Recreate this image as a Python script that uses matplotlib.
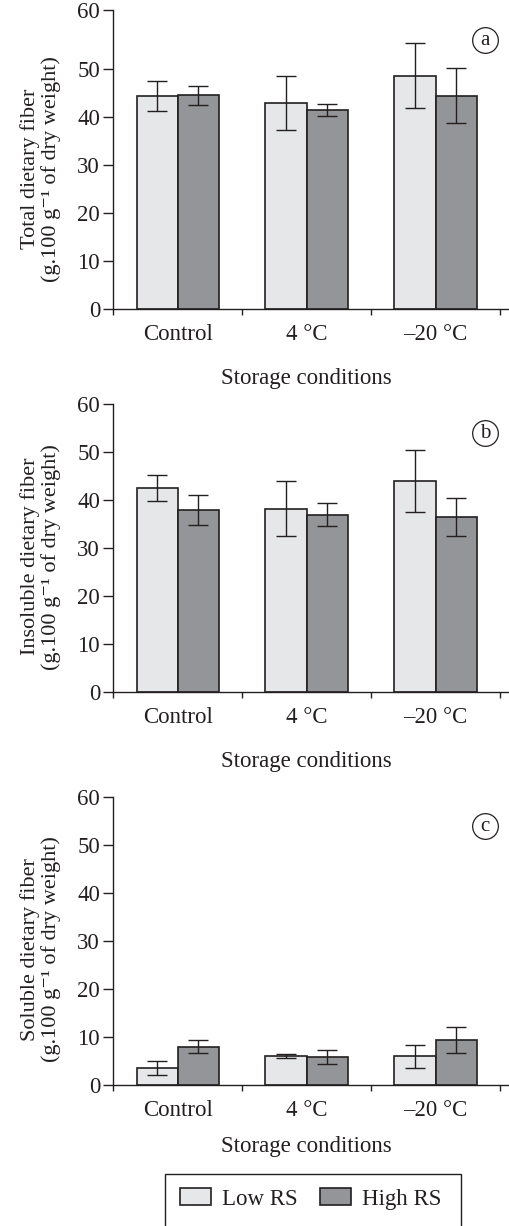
import numpy as np
import matplotlib
matplotlib.use("Agg")
import matplotlib.pyplot as plt
from matplotlib.patches import Patch, Rectangle

plt.rcParams['font.family'] = ['Liberation Serif', 'DejaVu Serif']

# data (mean and error)
categories = ["Control", "4 °C", "–20 °C"]
series_names = ["Low RS", "High RS"]

total_low = [44.5, 43.0, 48.7]
total_low_err = [3.1, 5.6, 6.8]
total_high = [44.6, 41.5, 44.5]
total_high_err = [2.0, 1.2, 5.7]

insol_low = [42.4, 38.2, 43.9]
insol_low_err = [2.7, 5.8, 6.5]
insol_high = [37.9, 36.9, 36.4]
insol_high_err = [3.2, 2.4, 3.9]

sol_low = [3.5, 6.0, 6.0]
sol_low_err = [1.4, 0.45, 2.4]
sol_high = [8.0, 5.8, 9.4]
sol_high_err = [1.3, 1.45, 2.7]

ylabels = ["Total dietary fiber", "Insoluble dietary fiber", "Soluble dietary fiber"]
panel_tags = ["a", "b", "c"]

LIGHT = '#e6e7e8'
DARK = '#939598'
INK = '#231f20'
FS = 16.5

W, H = 510, 1226


def px_box(left, top, right, bottom):
    return [left / W, 1 - bottom / H, (right - left) / W, (bottom - top) / H]


fig = plt.figure(figsize=(W / 100, H / 100), dpi=100)

# axes boxes in pixels: (left, top, right, bottom)
boxes = [(113.3, 10.3, 510, 309.3),
         (113.3, 403.7, 510, 692.3),
         (113.3, 796.7, 510, 1085)]
ytops = [62.3, 60, 60]
xlabel_offsets = [-54, -53.5, -48]

panels = [(total_low, total_low_err, total_high, total_high_err),
          (insol_low, insol_low_err, insol_high, insol_high_err),
          (sol_low, sol_low_err, sol_high, sol_high_err)]

x = np.arange(len(categories)) + 0.5
w = 0.32

for i, (lo, lo_e, hi, hi_e) in enumerate(panels):
    ax = fig.add_axes(px_box(*boxes[i]))

    ax.bar(x - w / 2, lo, w, color=LIGHT, edgecolor=INK, linewidth=1.2, zorder=2)
    ax.bar(x + w / 2, hi, w, color=DARK, edgecolor=INK, linewidth=1.2, zorder=2)
    ax.errorbar(x - w / 2, lo, yerr=lo_e, fmt='none', ecolor=INK,
                elinewidth=1.0, capsize=7.5, capthick=1.0, zorder=3)
    ax.errorbar(x + w / 2, hi, yerr=hi_e, fmt='none', ecolor=INK,
                elinewidth=1.0, capsize=7.5, capthick=1.0, zorder=3)

    ax.set_xlim(0, 3.077)
    ax.set_ylim(0, ytops[i])
    ticks = [0, 10, 20, 30, 40, 50, ytops[i]]
    ax.set_yticks(ticks)
    ax.set_yticklabels(['0', '10', '20', '30', '40', '50', '60'])

    # boundary ticks without labels, category names at centers
    ax.set_xticks(np.arange(len(categories) + 1))
    ax.set_xticklabels([])
    ax.set_xticks(x, minor=True)
    ax.set_xticklabels(categories, minor=True)
    ax.tick_params(axis='x', which='major', direction='out', length=4.2,
                   width=1.0, color=INK)
    ax.tick_params(axis='x', which='minor', length=0, pad=10.5,
                   labelsize=FS, labelcolor=INK)
    ax.tick_params(axis='y', direction='out', length=7, width=1.0,
                   color=INK, pad=2.5, labelsize=FS, labelcolor=INK)

    for s in ['top', 'right']:
        ax.spines[s].set_visible(False)
    for s in ['left', 'bottom']:
        ax.spines[s].set_linewidth(1.0)
        ax.spines[s].set_color(INK)

    ax.text(-0.183, 0.47,
            ylabels[i] + "\n(g.100 g\u207b\u00b9 of dry weight)",
            transform=ax.transAxes, rotation=90, ha='center', va='center',
            multialignment='center', fontsize=16, color=INK, linespacing=1.05)

    ax.annotate("Storage conditions", xy=(len(categories) / 2, 0),
                xycoords=('data', 'axes fraction'),
                xytext=(0, xlabel_offsets[i]), textcoords='offset points',
                ha='center', va='baseline', fontsize=FS, color=INK,
                annotation_clip=False)

    # circled panel letter
    ax.plot([0.937], [0.90], 'o', ms=18.5, mfc='none', mec=INK, mew=0.9,
            transform=ax.transAxes, clip_on=False)
    ax.annotate(panel_tags[i], xy=(0.937, 0.90), xycoords='axes fraction',
                xytext=(0, -3.6), textcoords='offset points',
                ha='center', va='baseline', fontsize=15, color=INK)

# legend: frame drawn by hand, it runs past the bottom edge in the original
handles = [Patch(facecolor=LIGHT, edgecolor=INK, linewidth=1.2),
           Patch(facecolor=DARK, edgecolor=INK, linewidth=1.2)]
leg = fig.legend(handles, series_names, loc='center left',
                 bbox_to_anchor=(180 / W, 1 - 1199 / H), ncol=2,
                 frameon=False, fontsize=FS,
                 borderpad=0, borderaxespad=0, handlelength=1.35,
                 handleheight=0.7, handletextpad=0.5, columnspacing=0.95)
for t in leg.get_texts():
    t.set_color(INK)
fig.patches.append(Rectangle((165 / W, 1 - 1250 / H), (461 - 165) / W, 76 / H,
                             transform=fig.transFigure, fill=False,
                             edgecolor=INK, linewidth=1.0))

fig.savefig("out.png", dpi=100)
